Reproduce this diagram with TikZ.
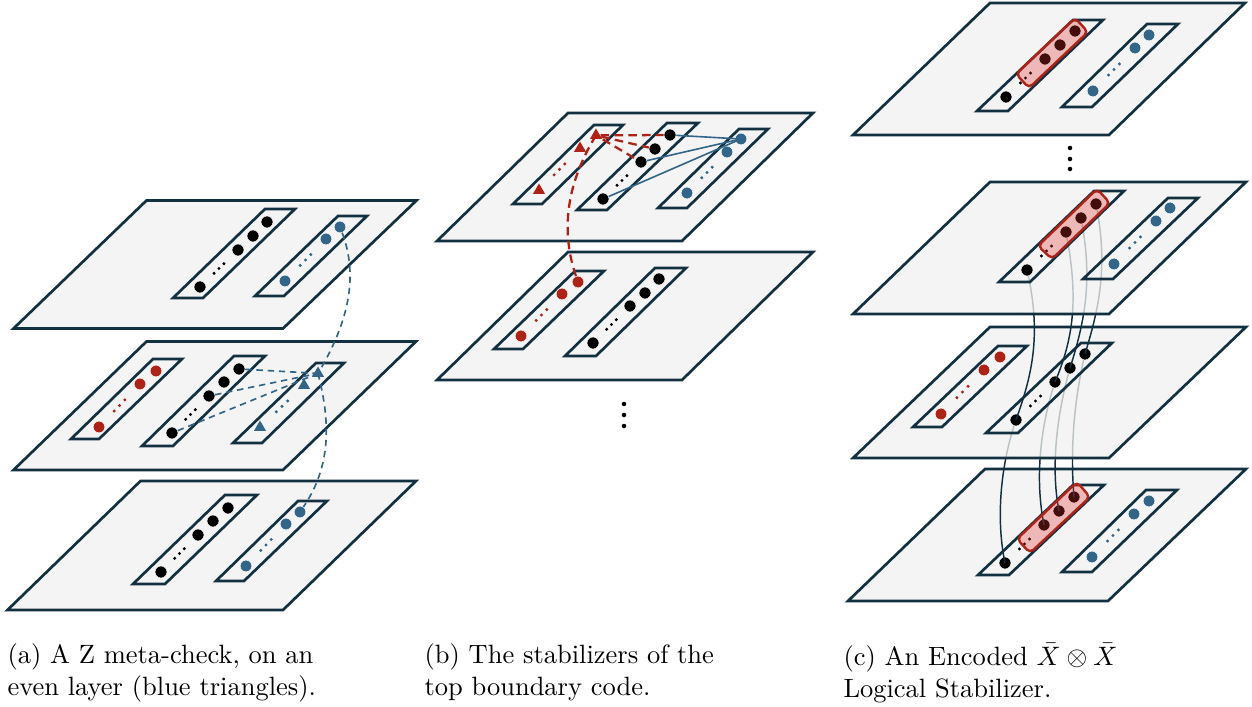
\documentclass[tikz,border=0pt]{standalone}
\usetikzlibrary{calc,shapes.geometric}
\definecolor{navy}{HTML}{12303F}
\definecolor{planegray}{HTML}{F4F4F4}
\definecolor{fadegray}{HTML}{F0F0F0}
\definecolor{qblue}{HTML}{336588}
\definecolor{qred}{HTML}{AE2318}
\definecolor{hipink}{HTML}{E0302A}
\tikzset{
  planeface/.style={draw=navy,fill=planegray,line width=1pt,line join=miter},
  fadeface/.style={draw=navy,fill=fadegray,fill opacity=.76,line width=1pt},
  stripface/.style={draw=navy,line width=1pt},
  bdot/.style={circle,fill=black,draw=white,line width=.2pt,inner sep=0pt,minimum size=4.5pt},
  udot/.style={circle,fill=qblue,draw=white,line width=.2pt,inner sep=0pt,minimum size=4.4pt},
  rdot/.style={circle,fill=qred,draw=white,line width=.2pt,inner sep=0pt,minimum size=4.4pt},
  utri/.style={regular polygon,regular polygon sides=3,fill=qblue,inner sep=0pt,minimum size=5.2pt,yshift=.6pt},
  rtri/.style={regular polygon,regular polygon sides=3,fill=qred,inner sep=0pt,minimum size=5.2pt,yshift=.6pt},
  gapdot/.style={circle,fill=#1,inner sep=0pt,minimum size=1.25pt},
  vdot/.style={circle,fill=black,inner sep=0pt,minimum size=1.7pt},
  udash/.style={draw=qblue,line width=.62pt,dash pattern=on 2.4pt off 1.8pt},
  rdash/.style={draw=qred,line width=.85pt,dash pattern=on 3.2pt off 2pt},
  usolid/.style={draw=qblue,line width=.6pt},
  wire/.style={draw=navy,line width=.55pt},
  hilite/.style={draw=qred,line width=.9pt,fill=hipink,fill opacity=.3,rounded corners=1.7pt},
  caption/.style={anchor=north west,align=left,inner sep=0pt,font=\fontsize{9.93}{12}\selectfont}
}
\newcommand{\qubits}[4]{%
  \foreach \p [count=\i] in {#4} {\node[#2] (#1\i) at \p {};}
  \node[gapdot=#3] (#1g1) at ($(#11)!.37!(#12)$) {};
  \node[gapdot=#3] (#1g2) at ($(#11)!.50!(#12)$) {};
  \node[gapdot=#3] (#1g3) at ($(#11)!.63!(#12)$) {};
}
\begin{document}
\begin{tikzpicture}[x=.375pt,y=-.375pt]
\useasboundingbox (0,0) rectangle (1252,707);

% ---------- panel a
\draw[planeface] (13.5,328.5) -- (283,328.5) -- (416.5,200.5) -- (146.5,200.5) -- cycle;
\draw[stripface] (173,298) -- (203,298) -- (295,209) -- (265,209) -- cycle;
\draw[stripface] (255,296) -- (284,296) -- (367,216) -- (338,216) -- cycle;
\qubits{at}{bdot}{black}{(200,287),(238,250),(253,236),(267,222)}
\qubits{au}{udot}{qblue}{(285,281),(326,239),(340,227)}

\draw[planeface] (13.5,470) -- (283,470) -- (416,341.5) -- (146.5,341.5) -- cycle;
\draw[stripface] (71,439) -- (99,439) -- (182,359) -- (153,359) -- cycle;
\draw[stripface] (142,446) -- (173,446) -- (265,356) -- (234,356) -- cycle;
\draw[stripface] (233,443) -- (262,443) -- (344,363) -- (316,363) -- cycle;
\qubits{amr}{rdot}{qred}{(99,427),(140,384),(156,371)}
\qubits{amb}{bdot}{black}{(172,433),(209,396),(224,382),(239,369)}
\qubits{amt}{utri}{qblue}{(260,429),(304,387),(318,375)}

\draw[planeface] (7.5,610) -- (283,610) -- (416,481) -- (140.5,481) -- cycle;
\draw[stripface] (133,584) -- (165,584) -- (257,495) -- (225,495) -- cycle;
\draw[stripface] (216,581) -- (244,581) -- (327,501) -- (298,501) -- cycle;
\qubits{ab}{bdot}{black}{(161,572),(198,535),(213,521),(228,508)}
\qubits{ac}{udot}{qblue}{(246,566),(286,524),(300,512)}

\draw[udash] (amb4) -- (amt3.center);
\draw[udash] (amb2) -- (amt3.center);
\draw[udash] (amb1) -- (amt3.center);
\draw[udash] (au3) .. controls (358,275) and (350,320) .. (amt3.center);
\draw[udash] (amt3.center) .. controls (330,420) and (332,465) .. (ac3);

% ---------- panel b
\draw[planeface] (437,241) -- (682,241) -- (813,113) -- (568,113) -- cycle;
\draw[stripface] (513,204) -- (542,204) -- (623,125) -- (594,125) -- cycle;
\draw[stripface] (577,210) -- (607,210) -- (698,123) -- (667,123) -- cycle;
\draw[stripface] (658,208) -- (687,208) -- (768,129) -- (739,129) -- cycle;
\qubits{bt}{rtri}{qred}{(539,192),(580,150),(596,137)}
\qubits{bb}{bdot}{black}{(603,199),(641,162),(655,149),(670,135)}
\qubits{bu}{udot}{qblue}{(687,193),(727,152),(741,139)}

\draw[planeface] (437,380) -- (682,380) -- (813,252) -- (568,252) -- cycle;
\draw[stripface] (494,349) -- (523,349) -- (604,271) -- (575,271) -- cycle;
\draw[stripface] (565,356) -- (596,356) -- (686,268) -- (655,268) -- cycle;
\qubits{cr}{rdot}{qred}{(521,336),(562,294),(578,282)}
\qubits{cb}{bdot}{black}{(593,343),(630,306),(645,293),(659,279)}

\draw[usolid] (bb4) -- (bu3.center);
\draw[usolid] (bb2) -- (bu3.center);
\draw[usolid] (bb1) -- (bu3.center);
\draw[rdash] (bt3) -- (bb4);
\draw[rdash] (bt3) -- (bb3);
\draw[rdash] (bt3) -- (bb2);
\draw[rdash] (bt3.center) .. controls (578,165) and (555,215) .. (cr3);

\node[vdot] (bv1) at (624,404) {};
\node[vdot] (bv2) at (624,415) {};
\node[vdot] (bv3) at (624,426) {};

% ---------- panel c
\coordinate (w21) at (1027,270);
\coordinate (w22) at (1066,232);
\coordinate (w23) at (1081,218);
\coordinate (w24) at (1096,204);
\coordinate (w31) at (1016,420);
\coordinate (w32) at (1055,382);
\coordinate (w33) at (1070,368);
\coordinate (w34) at (1085,354);
\coordinate (w41) at (1005,563);
\coordinate (w42) at (1044,525);
\coordinate (w43) at (1059,511);
\coordinate (w44) at (1074,497);

\draw[planeface] (848,601) -- (1108,601) -- (1246,469) -- (985,469) -- cycle;
\draw[stripface] (978,575) -- (1009,575) -- (1104,485) -- (1073,485) -- cycle;
\draw[stripface] (1062,572) -- (1092,572) -- (1177,490) -- (1146,490) -- cycle;
\qubits{fb}{bdot}{black}{(1005,563),(1044,525),(1059,511),(1074,497)}
\qubits{fu}{udot}{qblue}{(1092,557),(1134,514),(1149,501)}
\draw[wire] (w31) .. controls (1002,460) and (995,515) .. (w41);
\draw[wire] (w32) .. controls (1044,415) and (1033,470) .. (w42);
\draw[wire] (w33) .. controls (1058,410) and (1050,465) .. (w43);
\draw[wire] (w34) .. controls (1074,400) and (1070,450) .. (w44);
\draw[hilite] (1077,482) -- (1090,497) -- (1030,553) -- (1017,539) -- cycle;

\draw[fadeface] (853,458) -- (1109,458) -- (1246,327) -- (990,327) -- cycle;
\draw[stripface] (913,427) -- (942,427) -- (1027,346) -- (998,346) -- cycle;
\draw[stripface] (986,433) -- (1018,433) -- (1112,343) -- (1081,343) -- cycle;
\qubits{er}{rdot}{qred}{(941,414),(984,370),(1000,357)}
\qubits{eb}{bdot}{black}{(1016,420),(1055,382),(1070,368),(1085,354)}
\draw[wire] (w21) .. controls (1042,335) and (1032,375) .. (w31);
\draw[wire] (w22) .. controls (1078,295) and (1075,335) .. (w32);
\draw[wire] (w23) .. controls (1092,275) and (1087,315) .. (w33);
\draw[wire] (w24) .. controls (1108,265) and (1100,305) .. (w34);

\draw[fadeface] (853,314) -- (1109,314) -- (1246,182) -- (990,182) -- cycle;
\draw[stripface] (999,282) -- (1030,282) -- (1124,191) -- (1094,191) -- cycle;
\draw[stripface] (1083,279) -- (1113,279) -- (1198,198) -- (1168,198) -- cycle;
\qubits{db}{bdot}{black}{(1027,270),(1066,232),(1081,218),(1096,204)}
\qubits{du}{udot}{qblue}{(1114,264),(1156,221),(1170,208)}
\draw[hilite] (1097,189) -- (1110,203) -- (1052,259) -- (1038,246) -- cycle;

\node[vdot] (cv1) at (1070,148) {};
\node[vdot] (cv2) at (1070,159) {};
\node[vdot] (cv3) at (1070,169) {};

\draw[planeface] (853,135) -- (1109,135) -- (1245,3) -- (990,3) -- cycle;
\draw[stripface] (977,111) -- (1008,111) -- (1103,20) -- (1073,20) -- cycle;
\draw[stripface] (1062,107) -- (1092,107) -- (1178,24) -- (1147,24) -- cycle;
\qubits{tb}{bdot}{black}{(1006,97),(1045,59),(1060,45),(1075,31)}
\qubits{tu}{udot}{qblue}{(1093,91),(1135,48),(1149,35)}
\draw[hilite] (1075,18) -- (1088,32) -- (1029,88) -- (1016,74) -- cycle;

% ---------- captions
\node[caption] (capa) at (7,643) {(a) A Z meta-check, on an\\even layer (blue triangles).};
\node[caption] (capb) at (424,643) {(b) The stabilizers of the\\top boundary code.};
\node[caption] (capc) at (843,643) {(c) An Encoded $\bar X\otimes\bar X$\\Logical Stabilizer.};
\end{tikzpicture}
\end{document}
